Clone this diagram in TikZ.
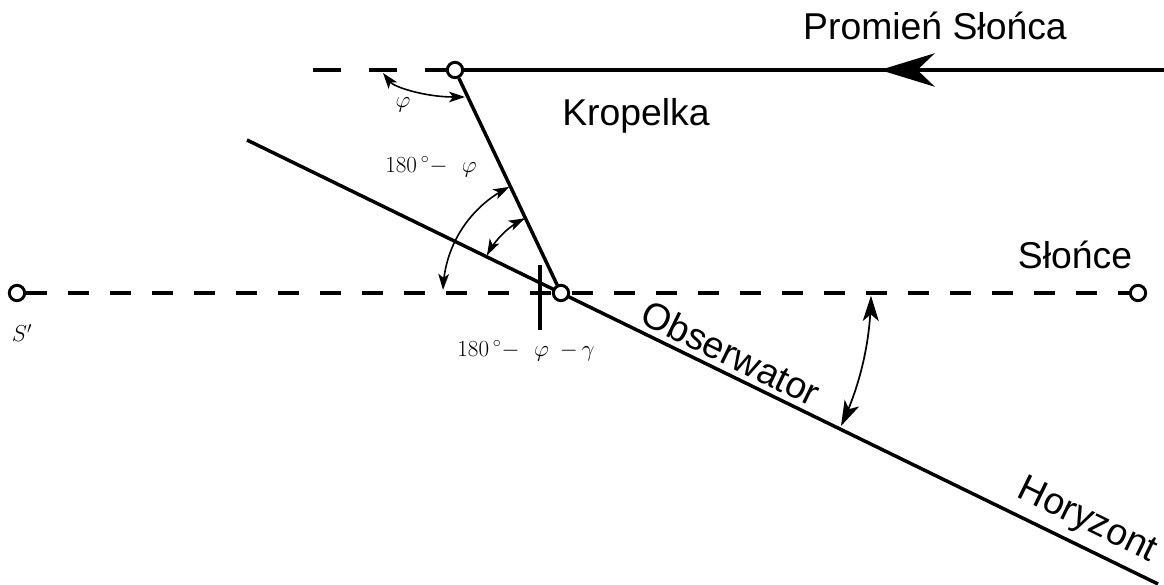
\documentclass[tikz,border=0pt]{standalone}
\usepackage{fontspec}
\newfontfamily\labfont{Liberation Sans}
\usetikzlibrary{arrows.meta,backgrounds}
\begin{document}
\begin{tikzpicture}[x=0.75pt,y=-0.75pt,
  thickline/.style={line width=2.6pt},
  dashline/.style={line width=2.6pt,dash pattern=on 15.75pt off 15.75pt},
  ring/.style={circle,draw,fill=white,line width=2.2pt,minimum size=11.5pt,inner sep=0pt},
  angarrow/.style={line width=1.2pt,{Stealth[length=12pt,width=8pt,inset=3pt]}-{Stealth[length=12pt,width=8pt,inset=3pt]}},
  bigangarrow/.style={line width=1.3pt,{Stealth[length=19pt,width=12pt,inset=5pt]}-{Stealth[length=19pt,width=12pt,inset=5pt]}},
  lab/.style={font=\labfont\fontsize{28}{30}\selectfont,inner sep=0pt},
  mlab/.style={font=\fontsize{18}{20}\selectfont,inner sep=0pt}]
\useasboundingbox (0,0) rectangle (1164,585);

% positions
\coordinate (L) at (313,70);
\coordinate (R) at (1164,70);
\coordinate (tip) at (880,70);
\coordinate (H1) at (247,140);
\coordinate (H2) at (1158,584);
\coordinate (T1) at (540,265);
\coordinate (T2) at (540,330);

% rings
\node[ring] (D) at (455,70) {};
\node[ring] (O) at (561,293) {};
\node[ring] (S) at (17,293) {};
\node[ring] (Sun) at (1138,293) {};

\begin{scope}[on background layer]
  \draw[thickline,dash pattern=on 21pt off 21pt] (L) -- (D);
  \draw[thickline] (D) -- (R);
  \draw[thickline,-{Stealth[length=41pt,width=25pt,inset=13pt]}] (R) -- (tip);
  \draw[thickline] (H1) -- (H2);
  \draw[thickline] (D) -- (O.center);
  \draw[dashline] (S) -- (Sun);
  \draw[thickline] (T1) -- (T2);
\end{scope}

% angle markers
\draw[angarrow] (383,73) .. controls (394,87) and (425,97) .. (465,97);
\draw[angarrow,shift={(O.center)}] plot[variable=\t,domain=116:153,samples=40] ({83*cos(\t)},{-83*sin(\t)});
\draw[angarrow,shift={(O.center)}] plot[variable=\t,domain=116:178.5,samples=50] ({118*cos(\t)},{-118*sin(\t)});
\draw[bigangarrow,shift={(O.center)}] plot[variable=\t,domain=-25.4:-0.5,samples=50] ({310*cos(\t)},{-310*sin(\t)});

% labels
\node[lab,anchor=base] (ray) at (935,40) {Promień Słońca};
\node[lab,anchor=base] (drop) at (636,125) {Kropelka};
\node[lab,anchor=base] (sunlab) at (1075,268) {Słońce};
\node[lab,rotate=-26] (obs) at (731,353) {Obserwator};
\node[lab,rotate=-26] (hor) at (1087,521) {Horyzont};
\node[mlab] (phi) at (403,105) {$\varphi$};
\node[mlab,anchor=base] (a1) at (431,172) {$180\,{}^{\circ}{-}\ \ \varphi$};
\node[mlab,anchor=base] (a2) at (526,356) {$180\,{}^{\circ}{-}\ \ \varphi\ \,{-}\,\gamma$};
\node[mlab] (sp) at (22,333) {$S'$};
\end{tikzpicture}
\end{document}
